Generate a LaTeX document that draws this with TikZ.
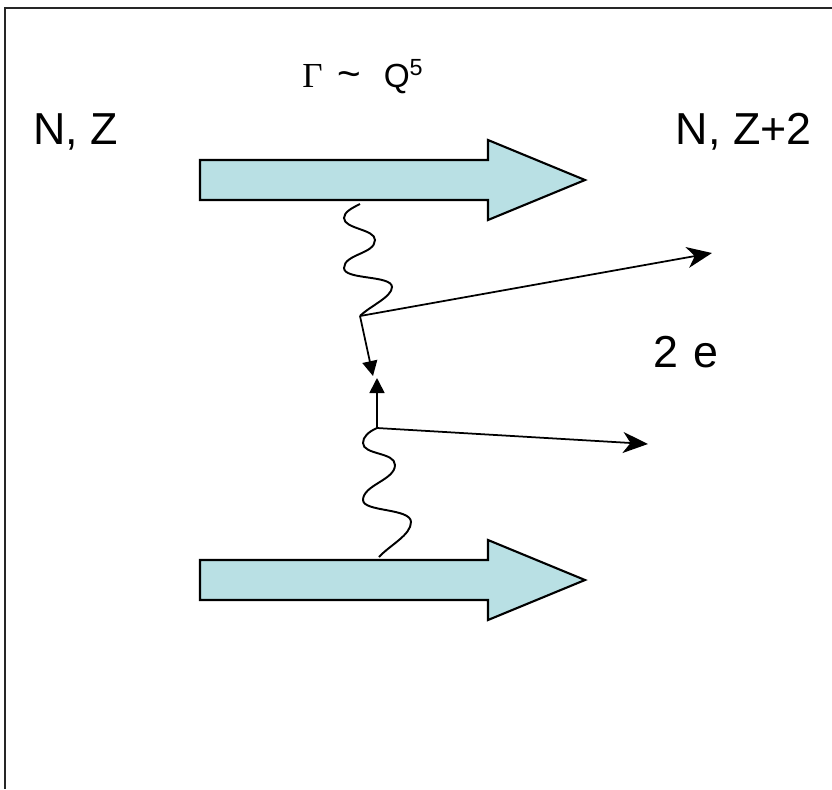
\documentclass[tikz,border=0pt]{standalone}
\usepackage{fontspec}
\setmainfont{Liberation Sans}
\newfontfamily\gorog{Liberation Serif}
\usetikzlibrary{arrows.meta}
\definecolor{kek}{RGB}{185,224,228}
\tikzset{
  keret/.style={line width=1.5pt,black!85},
  tomb/.style={draw,line width=1.2pt,fill=kek},
  hull/.style={line width=1.1pt},
  elnyil/.style={line width=1pt,-{Stealth[length=5mm,width=4.2mm,inset=1.5mm]}},
  kisnyil/.style={line width=1pt,-{Triangle[length=3mm,width=3mm]}},
  nagy/.style={font=\fontsize{25.5}{30}\selectfont,inner sep=0pt},
  kozep/.style={font=\fontsize{19}{23}\selectfont,inner sep=0pt},
}

\begin{document}
\begin{tikzpicture}[x=0.02cm,y=-0.02cm]
  \useasboundingbox (0,0) rectangle (832,789);
  \draw[keret] (832,8) -- (5,8) -- (5,789);
  % vastag nyilak
  \foreach \y in {180,580} {
    \draw[tomb] (200,\y-20) -- (488,\y-20) -- (488,\y-40) -- (585,\y)
      -- (488,\y+40) -- (488,\y+20) -- (200,\y+20) -- cycle;
  }
  \coordinate (v1) at (360,316);
  \coordinate (v2) at (377,428);
  \coordinate (e1) at (712,253);
  \coordinate (e2) at (648,444);
  \coordinate (m1) at (373,376);
  \coordinate (m2) at (377,378);
  % hullamos vonalak
  \draw[hull] (360,204) .. controls (352,208) and (344,212) .. (344,218)
    .. controls (344,229) and (375,229) .. (375,240)
    .. controls (375,254) and (344,254) .. (344,268)
    .. controls (344,280) and (392,275) .. (392,287)
    .. controls (392,297) and (370,306) .. (v1);
  \draw[hull] (v2) .. controls (368,432) and (363,437) .. (363,443)
    .. controls (363,455) and (395,452) .. (395,465)
    .. controls (395,480) and (363,485) .. (363,500)
    .. controls (363,512) and (411,508) .. (411,522)
    .. controls (411,535) and (390,545) .. (379,557);
  \draw[elnyil] (v1) -- (e1);
  \draw[elnyil] (v2) -- (e2);
  \draw[kisnyil] (v1) -- (m1);
  \draw[kisnyil] (v2) -- (m2);
  \node[nagy,anchor=base west] (nz) at (33,144) {N, Z};
  \node[nagy,anchor=base east] (nz2) at (812,144) {N, Z+2};
  \node[nagy,anchor=base west] (ke) at (653,367) {2\hspace{0.05cm} e};
  \node[kozep,anchor=base west] (gam) at (302,87)
    {{\fontsize{20}{23}\selectfont\gorog\char"0393}\hspace{0.3cm}%
     {\fontsize{23}{23}\selectfont\char"007E}\hspace{0.45cm}Q\textsuperscript{5}};
\end{tikzpicture}
\end{document}
